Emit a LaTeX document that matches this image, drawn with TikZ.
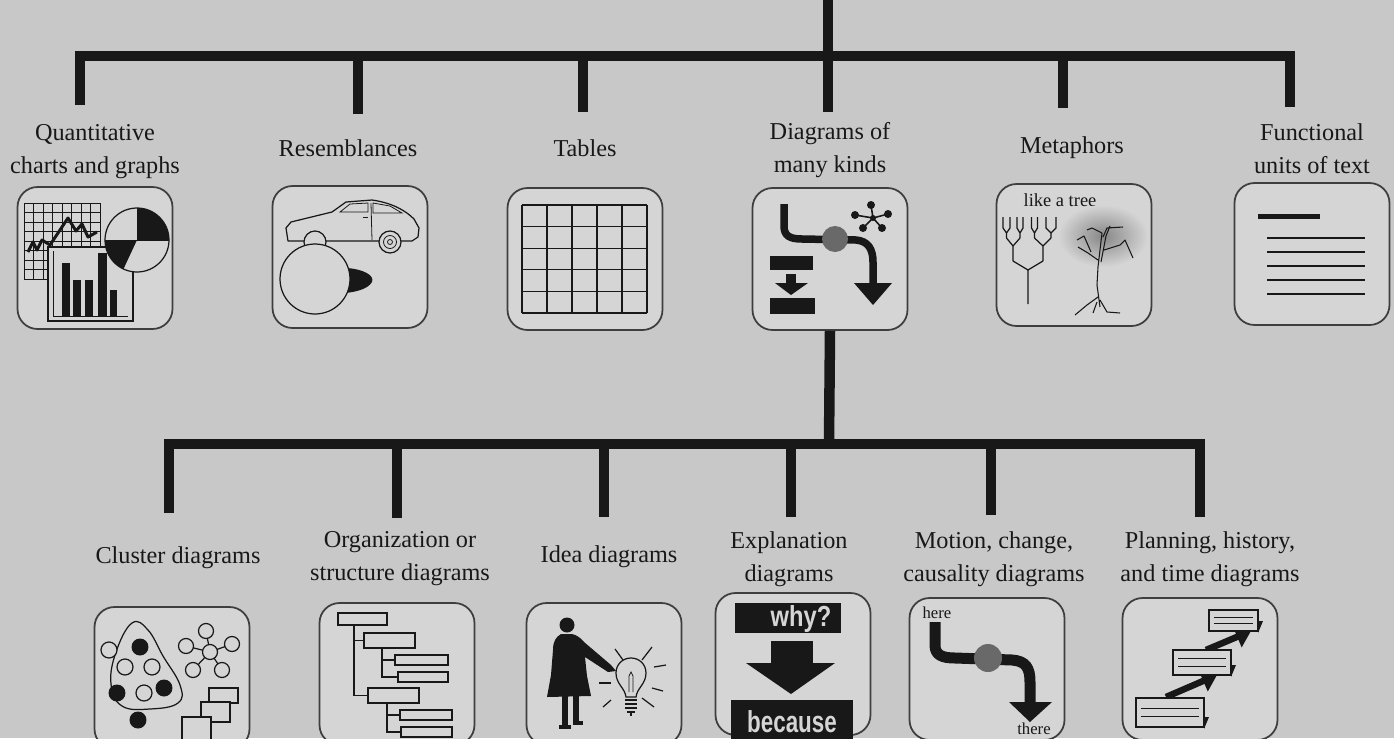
\documentclass[tikz,border=0pt]{standalone}
\usepackage{fontspec}
\setmainfont{Liberation Serif}
\newfontfamily\signfont{Liberation Sans}
\usetikzlibrary{positioning, arrows.meta}

\definecolor{paper}{RGB}{200,200,200}
\definecolor{tilefill}{RGB}{213,213,213}
\definecolor{ink}{RGB}{24,24,24}
\definecolor{frame}{RGB}{62,62,62}
\definecolor{knob}{RGB}{105,105,105}
\definecolor{leafy}{RGB}{135,135,135}

\begin{document}
\begin{tikzpicture}[
    % GLOBAL CFG (1 unit = 1 px, y grows downwards)
    x=0.02cm, y=-0.02cm,
    font=\fontsize{13.8}{18.7}\selectfont,
    >=Latex,
    % Styles
    tile/.style={
        rectangle,
        rounded corners=0.4cm,
        draw=frame,
        line width=1pt,
        fill=tilefill,
        minimum width=3.1cm,
        minimum height=2.84cm,
    },
    caption/.style={
        align=center,
        inner sep=0pt,
        text=ink,
    },
    small/.style={
        font=\fontsize{9.5}{11}\selectfont,
        inner sep=0pt,
        text=ink,
    },
    sign/.style={
        font=\signfont\bfseries\fontsize{15}{16}\selectfont,
        inner sep=0pt,
        text=tilefill,
    },
    branch/.style={
        draw=ink,
        line width=0.21cm,
    },
    hair/.style={draw=ink, line width=0.45pt},
    pen/.style={draw=ink, line width=0.7pt},
    card/.style={draw=ink, line width=0.6pt, fill=tilefill},
]

% Background
    \useasboundingbox (0,0) rectangle (1394,738);
    \fill[paper] (0,0) rectangle (1394,738);

% Draw the tiles of the first level
    \node [tile] (quant) at (95,258) {};
    \node [tile] (resem) at (350,257) {};
    \node [tile] (table) at (585,259) {};
    \node [tile] (many) at (830,259) {};
    \node [tile] (meta) at (1074,255) {};
    \node [tile] (func) at (1312,254) {};

% Draw the tiles of the second level
    \node [tile] (cluster) at (172,678) {};
    \node [tile] (org) at (397,674) {};
    \node [tile] (idea) at (604,674) {};
    \node [tile] (expl) at (793,664) {};
    \node [tile] (motion) at (987,669) {};
    \node [tile] (plan) at (1200,669) {};

% Captions
    \node [caption] (lquant) at (95,152) {Quantitative\\charts and graphs};
    \node [caption] (lresem) at (348,148) {Resemblances};
    \node [caption] (ltable) at (585,148) {Tables};
    \node [caption] (lmany) at (830,150) {Diagrams of\\many kinds};
    \node [caption] (lmeta) at (1072,148) {Metaphors};
    \node [caption] (lfunc) at (1312,149) {Functional\\units of text};

    \node [caption] (lcluster) at (178,558) {Cluster diagrams};
    \node [caption] (lorg) at (400,559) {Organization or\\structure diagrams};
    \node [caption] (lidea) at (609,557) {Idea diagrams};
    \node [caption] (lexpl) at (789,559) {Explanation\\diagrams};
    \node [caption] (lmotion) at (994,559) {Motion, change,\\causality diagrams};
    \node [caption] (lplan) at (1210,559) {Planning, history,\\and time diagrams};

% The tree of bars
    \coordinate (root) at (828,-6);
    \coordinate (hub) at (828,56);
    \coordinate (lowhub) at (829,444);
    \coordinate (quant-foot) at (80,105);
    \coordinate (resem-foot) at (358,114);
    \coordinate (table-foot) at (583,112);
    \coordinate (many-foot) at (828,112);
    \coordinate (meta-foot) at (1063,108);
    \coordinate (func-foot) at (1290,107);
    \coordinate (cluster-foot) at (169,513);
    \coordinate (org-foot) at (397,518);
    \coordinate (idea-foot) at (604,517);
    \coordinate (expl-foot) at (791,517);
    \coordinate (motion-foot) at (991,515);
    \coordinate (plan-foot) at (1200,517);

    \draw [branch] (root) -- (many-foot);
    \draw [branch] (quant-foot) |- (hub) -| (func-foot);
    \foreach \f in {resem, table, meta}
        \draw [branch] (\f-foot |- hub) -- (\f-foot);

    \draw [branch] (many.south) -- (lowhub);
    \draw [branch] (cluster-foot) |- (lowhub) -| (plan-foot);
    \foreach \f in {org, idea, expl, motion}
        \draw [branch] (\f-foot |- lowhub) -- (\f-foot);

% Quantitative charts and graphs
    \foreach \i in {0,...,8} {
        \draw [hair] (24+9.5*\i,203) -- (24+9.5*\i,279);
        \draw [hair] (24,203+9.5*\i) -- (100,203+9.5*\i);
    }
    \draw [ink, line width=0.06cm, line join=round] (28,252) -- (33,242) -- (37,250) -- (42,240) -- (50,245)
        -- (68,218) -- (76,231) -- (82,224) -- (88,237) -- (97,232);
    \draw [pen, fill=tilefill] (48,247) rectangle (133,321);
    \draw [hair] (53,251) -- (53,316) -- (128,316);
    \foreach \l/\t/\r in {62/263/70, 73/280/81, 85/280/93, 98/253/107, 110/290/117}
        \fill [ink] (\l,\t) rectangle (\r,316);
    \draw [pen, fill=tilefill] (137,240) circle [radius=0.64cm];
    \fill [ink] (137,240) -- ++(0:0.64cm) arc [start angle=0, end angle=90, radius=0.64cm] -- cycle;
    \fill [ink] (137,240) -- ++(180:0.64cm) arc [start angle=180, end angle=245, radius=0.64cm] -- cycle;
    \draw [hair] (137,240) ++(180:0.64cm) -- ++(0:1.28cm);
    \draw [hair] (137,240) -- ++(90:0.64cm);

% Resemblances: car and ball
    \draw [pen, fill=tilefill, line join=round] (288,241) -- (286,228) -- (291,222) -- (332,212) -- (346,202)
        -- (372,200) .. controls (393,203) and (406,211) .. (414,219) -- (419,228) -- (418,237) -- (412,241) -- cycle;
    \draw [hair] (340,212) -- (350,204) -- (368,203) -- (368,212) -- cycle;
    \draw [hair] (373,203) -- (390,206) -- (402,213) -- (373,213) -- cycle;
    \draw [hair] (371,203) -- (372,240);
    \draw [hair] (363,217) -- (368,217);
    \draw [pen, fill=tilefill] (390,242) circle [radius=0.22cm];
    \draw [hair] (390,242) circle [radius=0.13cm];
    \draw [hair] (390,242) circle [radius=0.05cm];
    \draw [pen, fill=tilefill] (315,242) circle [radius=0.22cm];
    \fill [ink] (347,268) .. controls (362,269) and (375,275) .. (372,282)
        .. controls (368,289) and (356,292) .. (345,293) -- cycle;
    \draw [pen, fill=tilefill] (315,279) circle [radius=0.70cm];

% Tables
    \foreach \i in {0,...,5} {
        \draw [pen] (522+25*\i,205) -- (522+25*\i,313);
        \draw [pen] (522,205+21.6*\i) -- (647,205+21.6*\i);
    }

% Diagrams of many kinds
    \draw [ink, line width=0.15cm] (784,204) -- (784,226) .. controls (784,236) and (790,239) .. (802,239)
        -- (856,240) .. controls (868,241) and (873,249) .. (873,262) -- (873,285);
    \fill [ink] (854,283) -- (892,283) -- (873,305) -- cycle;
    \fill [knob] (835,239) circle [radius=0.26cm];
    \foreach \x/\y in {871/205, 855/215, 888/214, 863/228, 882/228} {
        \draw [ink, line width=0.9pt] (873,218) -- (\x,\y);
        \fill [ink] (\x,\y) circle [radius=0.08cm];
    }
    \fill [ink] (873,218) circle [radius=0.06cm];
    \fill [ink] (770,256) rectangle (813,270);
    \fill [ink] (786,274) rectangle (796,284);
    \fill [ink] (775,283) -- (808,283) -- (791,295) -- cycle;
    \fill [ink] (770,298) rectangle (815,314);

% Metaphors: a tree graph and a tree
    \node [small, font=\fontsize{10.5}{12}\selectfont] (treetag) at (1060,200) {like a tree};
    \foreach \c/\w in {1006.5/3.5, 1020/3, 1034.5/3, 1051/5}
        \draw [pen] (\c-\w,217) -- (\c-\w,228) -- (\c,233) -- (\c+\w,228) -- (\c+\w,217) (\c,233) -- (\c,238);
    \draw [pen] (1006.5,238) -- (1013,246) -- (1020,238) (1013,246) -- (1013,261);
    \draw [pen] (1034.5,238) -- (1043,246) -- (1051,238) (1043,246) -- (1043,261);
    \draw [pen] (1013,261) -- (1028,270) -- (1043,261) (1028,270) -- (1028,304);
    \shade [inner color=leafy, outer color=tilefill] (1103,236) ellipse [x radius=0.9cm, y radius=0.62cm];
    \draw [ink, line width=0.6pt, line join=round] (1100,307) -- (1097,285) -- (1098,267) -- (1102,233)
        (1102,233) -- (1092,228) -- (1087,230)
        (1103,237) -- (1107,228) -- (1123,227)
        (1104,250) -- (1120,245) -- (1125,240) -- (1133,258)
        (1098,260) -- (1088,253) -- (1078,247)
        (1091,252) -- (1084,236) -- (1077,240)
        (1101,262) -- (1106,236) -- (1110,226)
        (1098,297) -- (1087,305) -- (1075,315)
        (1100,300) -- (1107,312) -- (1120,313)
        (1097,302) -- (1093,313);

% Functional units of text
    \draw [ink, line width=0.1cm] (1258,216) -- (1320,216);
    \foreach \y in {238,252,266,280,294}
        \draw [pen] (1267,\y) -- (1365,\y);

% Cluster diagrams
    \draw [pen] plot [smooth cycle, tension=0.7] coordinates
        {(132,623) (148,630) (163,656) (180,685) (178,703) (150,709) (122,706) (111,684) (116,652)};
    \foreach \x/\y in {140/647, 164/688, 117/693, 138/720}
        \fill [ink] (\x,\y) circle [radius=0.17cm];
    \foreach \x/\y in {109/650, 125/667, 152/667, 144/693}
        \draw [pen, fill=tilefill] (\x,\y) circle [radius=0.16cm];
    \foreach \x/\y in {186/646, 206/631, 232/644, 193/670, 222/670}
        \draw [pen] (210,652) -- (\x,\y);
    \foreach \x/\y in {210/652, 186/646, 206/631, 232/644, 193/670, 222/670}
        \draw [pen, fill=tilefill] (\x,\y) circle [radius=0.15cm];
    \draw [card] (209,688) rectangle (238,703);
    \draw [card] (201,702) rectangle (230,722);
    \draw [card] (182,717) rectangle (211,740);

% Organization or structure diagrams
    \draw [pen] (354,625) |- (364,640.5);
    \draw [pen] (354,625) |- (368,695.5);
    \draw [pen] (382,648) |- (395,660);
    \draw [pen] (382,648) |- (398,677);
    \draw [pen] (387,703) |- (400,715);
    \draw [pen] (387,703) |- (401,732);
    \foreach \l/\t/\r/\b in {338/613/387/625, 364/633/415/648, 395/655/448/665, 398/672/448/682,
                            368/688/419/703, 400/710/452/720, 401/727/452/737}
        \draw [card] (\l,\t) rectangle (\r,\b);

% Idea diagrams: a figure pointing at a bulb
    \fill [ink] (567,625) circle [radius=0.15cm];
    \fill [ink] (561,634) .. controls (556,637) and (553,641) .. (553,650) -- (551,675) -- (547,697)
        -- (591,696) -- (587,676) -- (585,657) -- (608,672) -- (616,671) -- (611,665)
        -- (584,642) .. controls (580,637) and (576,635) .. (572,634) -- cycle;
    \fill [ink] (562,694) rectangle (568,726);
    \fill [ink] (573,694) rectangle (579,722);
    \fill [ink] (559,725) rectangle (571,729);
    \fill [ink] (573,721) rectangle (583,725);
    \draw [pen] (626,697) .. controls (625,688) and (616,684) .. (616,673) .. controls (616,664) and (623,658) .. (631,658)
        .. controls (639,658) and (646,664) .. (646,673) .. controls (646,684) and (637,688) .. (636,697) -- cycle;
    \draw [hair] (629,692) -- (629,676) -- (631,672) -- (633,676) -- (633,692);
    \foreach \y in {700,704,708}
        \draw [pen] (625,\y) -- (637,\y);
    \draw [pen] (627,712) -- (635,712) (631,712) -- (631,716);
    \foreach \a/\b/\c/\d in {615/649/623/660, 652/647/642/660, 654/667/666/665, 652/688/663/691,
                            642/698/654/707, 611/700/603/707, 599/683/611/683}
        \draw [pen] (\a,\b) -- (\c,\d);

% Explanation diagrams
    \fill [ink] (735,603) rectangle (841,633);
    \node [sign] (why) at (801,619) {\scalebox{0.9}[1.1]{why?}};
    \fill [ink] (771,641) rectangle (813,664);
    \fill [ink] (746,663) -- (835,663) -- (791,694) -- cycle;
    \fill [ink] (731,700) rectangle (853,745);
    \node [sign] (because) at (792,722) {\scalebox{0.85}[1.15]{because}};

% Motion, change, causality diagrams
    \node [small] (here) at (937,613) {here};
    \draw [ink, line width=0.22cm] (935,622) -- (935,645) .. controls (935,655) and (942,658) .. (955,658)
        -- (1012,660) .. controls (1026,661) and (1030,668) .. (1030,682) -- (1030,703);
    \fill [ink] (1009,702) -- (1052,702) -- (1030,722) -- cycle;
    \fill [knob] (988,658) circle [radius=0.28cm];
    \node [small] (there) at (1034,729) {there};

% Planning, history, and time diagrams
    \draw [ink, line width=0.13cm, -{Triangle[length=0.3cm, width=0.44cm]}] (1166,697) -- (1217,675);
    \draw [ink, line width=0.13cm, -{Triangle[length=0.3cm, width=0.44cm]}] (1206,650) -- (1251,631);
    \foreach \l/\t/\r/\b in {1209/610/1258/631, 1173/650/1231/675, 1136/698/1204/727} {
        \draw [card] (\l,\t) rectangle (\r,\b);
        \draw [pen] (\l+5,\t+0.35*\b-0.35*\t) -- (\r-5,\t+0.35*\b-0.35*\t);
        \draw [pen] (\l+5,\t+0.65*\b-0.65*\t) -- (\r-5,\t+0.65*\b-0.65*\t);
        \fill [ink] (\r,\b-10) -- (\r+5,\b-10) -- (\r,\b+2) -- cycle;
    }

\end{tikzpicture}
\end{document}
